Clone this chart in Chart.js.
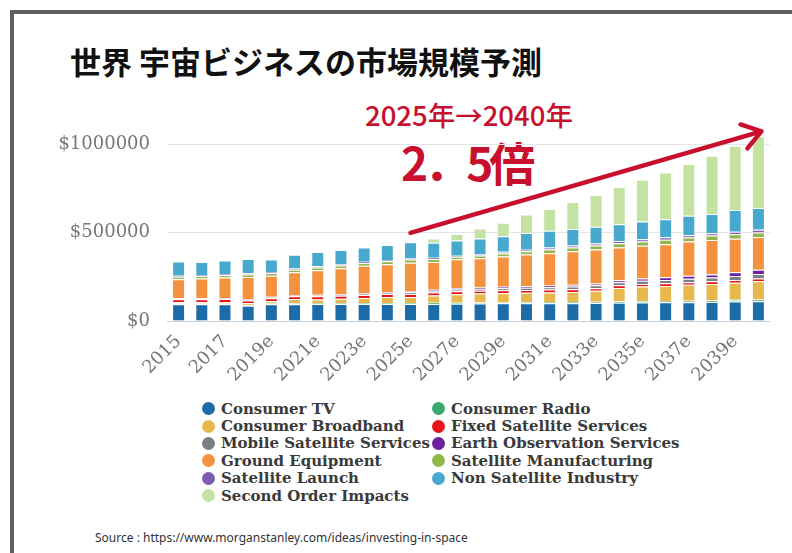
<!DOCTYPE html>
<html lang="ja">
<head>
<meta charset="utf-8">
<script src="https://cdn.jsdelivr.net/npm/chart.js@4"></script>
<style>
  html, body { margin: 0; padding: 0; background: #fff; }
  #page { position: relative; width: 792px; height: 553px; overflow: hidden; background: #fff; }
  #frame { position: absolute; left: 10px; top: 10px; width: 820px; height: 580px;
           border-top: 4px solid #5f5f5f; border-left: 4px solid #5f5f5f; }
  #title { position: absolute; left: 70px; top: 45px; font: bold 31px "Noto Sans CJK JP"; color: #111; line-height: 1; white-space: nowrap; }
  #period { position: absolute; left: 365px; top: 101px; font: 500 27.5px "Noto Sans CJK JP"; color: #c8102e; line-height: 1; white-space: nowrap; }
  #ratio { position: absolute; left: 401px; top: 138px; font: bold 46px "Noto Sans CJK JP"; letter-spacing: -4px; color: #c8102e; line-height: 1; white-space: nowrap; }
  #chartBox { position: absolute; left: 0; top: 100px; width: 792px; height: 300px; }
  #legend { position: absolute; left: 202px; top: 400px; display: grid; grid-template-columns: 230px 230px; }
  .item { height: 17.4px; display: flex; align-items: center; white-space: nowrap;
          font: bold 15px "DejaVu Serif"; color: #3a3a3a; }
  .dot { width: 13px; height: 13px; border-radius: 50%; margin-right: 6px; flex: none; }
  #source { position: absolute; left: 95px; top: 529px; font: 12px "Noto Sans"; color: #333; white-space: nowrap; }
</style>
</head>
<body>
<div id="page">
  <div id="frame"></div>
  <div id="title">世界 宇宙ビジネスの市場規模予測</div>
  <div id="period">2025年→2040年</div>
  <div id="ratio">2．5倍</div>
  <div id="chartBox"><canvas id="grafico" width="792" height="300"></canvas></div>
  <div id="legend"></div>
  <div id="source">Source : https://www.morganstanley.com/ideas/investing-in-space</div>
</div>
<script>
const years = ["2015", "2016", "2017", "2018", "2019e", "2020e", "2021e", "2022e", "2023e", "2024e",
  "2025e", "2026e", "2027e", "2028e", "2029e", "2030e", "2031e", "2032e", "2033e", "2034e",
  "2035e", "2036e", "2037e", "2038e", "2039e", "2040e"];

const seriesNames = ["Consumer TV", "Consumer Radio", "Consumer Broadband", "Fixed Satellite Services",
  "Mobile Satellite Services", "Earth Observation Services", "Ground Equipment", "Satellite Manufacturing",
  "Satellite Launch", "Non Satellite Industry", "Second Order Impacts"];

const seriesColors = ["#1b6ca8", "#3aa76d", "#e8b84f", "#e8141b", "#7a7f85", "#6d1f9e",
  "#f4923f", "#93b64a", "#7e5bb0", "#48a9cf", "#c4e2a2"];

const consumerTV = [95000, 95000, 95000, 86000, 95000, 95000, 96000, 96000, 96000, 96000, 97000, 97000, 98000,
  99000, 100000, 100000, 101000, 101000, 102000, 104000, 105000, 106000, 106000, 108000, 110000, 112000];
const consumerRadio = [4000, 4000, 4000, 4000, 4000, 5000, 5000, 5000, 5000, 5000, 5000, 6000, 6000,
  6000, 6000, 7000, 7000, 7000, 7000, 8000, 8000, 8000, 9000, 9000, 10000, 10000];
const consumerBroadband = [7000, 7000, 8000, 10000, 13000, 24000, 21000, 25000, 29000, 35000, 34000, 41000, 48000,
  51000, 52000, 53000, 54000, 57000, 62000, 75000, 82000, 85000, 90000, 93000, 97000, 104000];
const fixedSatellite = [17000, 17000, 17000, 16000, 17000, 16000, 18000, 17000, 17000, 17000, 17000, 17000, 16000,
  16000, 16000, 16000, 16000, 15000, 15000, 15000, 15000, 15000, 15000, 15000, 15000, 15000];
const mobileSatellite = [4000, 4000, 4000, 5000, 5000, 5000, 6000, 6000, 7000, 7000, 10000, 10000, 11000,
  11000, 12000, 13000, 14000, 15000, 16000, 17000, 18000, 19000, 20000, 21000, 23000, 25000];
const earthObservation = [2000, 2000, 2000, 3000, 3000, 3000, 3000, 3000, 4000, 4000, 6000, 6000, 7000,
  7000, 8000, 8000, 9000, 10000, 11000, 12000, 13000, 15000, 16000, 18000, 21000, 24000];
const groundEquipment = [108000, 112000, 117000, 126000, 120000, 128000, 138000, 147000, 155000, 158000, 161000, 158000, 164000,
  165000, 171000, 180000, 183000, 190000, 192000, 185000, 185000, 187000, 194000, 195000, 190000, 186000];
const satelliteManufacturing = [14000, 14000, 14000, 14000, 15000, 15000, 16000, 16000, 16000, 17000, 18000, 16000, 14000,
  16000, 18000, 18000, 22000, 22000, 23000, 25000, 25000, 26000, 24000, 25000, 26000, 26000];
const satelliteLaunch = [6000, 6000, 6000, 6000, 6000, 6000, 7000, 7000, 7000, 7000, 9000, 8000, 6000,
  8000, 9000, 9000, 11000, 11000, 12000, 13000, 13000, 14000, 12000, 14000, 14000, 15000];
const nonSatellite = [80000, 74000, 76000, 81000, 70000, 78000, 81000, 80000, 80000, 85000, 90000, 85000, 87000,
  89000, 89000, 95000, 95000, 94000, 94000, 95000, 100000, 102000, 110000, 108000, 123000, 123000];
const secondOrder = [0, 0, 0, 0, 0, 0, 0, 0, 0, 0, 2000, 23000, 36000,
  57000, 76000, 104000, 123000, 153000, 180000, 210000, 237000, 265000, 294000, 331000, 364000, 407000];

const yTicks = [0, 500000, 1000000];

const seriesValues = [consumerTV, consumerRadio, consumerBroadband, fixedSatellite, mobileSatellite,
  earthObservation, groundEquipment, satelliteManufacturing, satelliteLaunch, nonSatellite, secondOrder];

// flecha roja 2025e -> 2040e
const flecha = {
  id: "flecha",
  afterDraw(chart) {
    const x = chart.scales.x, y = chart.scales.y, ctx = chart.ctx;
    const x0 = x.getPixelForValue(10), y0 = y.getPixelForValue(500000);
    const x1 = x.getPixelForValue(25) + 3, y1 = y.getPixelForValue(1075000);
    const ang = Math.atan2(y1 - y0, x1 - x0);
    ctx.save();
    ctx.strokeStyle = "#c8102e";
    ctx.lineWidth = 4.5;
    ctx.lineCap = "round";
    ctx.lineJoin = "round";
    ctx.beginPath();
    ctx.moveTo(x0, y0);
    ctx.lineTo(x1, y1);
    ctx.moveTo(x1 + 22 * Math.cos(ang + Math.PI - 0.6), y1 + 22 * Math.sin(ang + Math.PI - 0.6));
    ctx.lineTo(x1, y1);
    ctx.lineTo(x1 + 22 * Math.cos(ang + Math.PI + 0.6), y1 + 22 * Math.sin(ang + Math.PI + 0.6));
    ctx.stroke();
    ctx.restore();
  }
};

new Chart(document.getElementById("grafico"), {
  type: "bar",
  data: {
    labels: years,
    datasets: seriesNames.map((name, i) => ({
      label: name,
      data: seriesValues[i],
      backgroundColor: seriesColors[i],
      borderColor: "#fff",
      borderWidth: 1
    }))
  },
  options: {
    responsive: false,
    animation: false,
    layout: { padding: { left: 0, right: 22, top: 34, bottom: 19 } },
    categoryPercentage: 0.56,
    barPercentage: 1,
    plugins: { legend: { display: false }, tooltip: { enabled: false } },
    scales: {
      x: {
        stacked: true,
        grid: { display: false },
        border: { display: false },
        afterFit(s) { s.height = 60; },
        ticks: {
          autoSkip: false,
          minRotation: 45,
          maxRotation: 45,
          padding: 2,
          color: "#777",
          font: { family: "DejaVu Serif", size: 18 },
          callback: (v, i) => (i % 2 === 0 ? years[i] : "")
        }
      },
      y: {
        stacked: true,
        min: 0,
        max: 1060000,
        afterFit(s) { s.width = 167; },
        afterBuildTicks(s) { s.ticks = yTicks.map(v => ({ value: v })); },
        border: { display: false },
        grid: { drawTicks: false, color: c => (c.tick && c.tick.value === 0 ? "#c9cfd6" : "#e4e4e4") },
        ticks: {
          padding: 17,
          color: "#777",
          font: { family: "DejaVu Serif", size: 18 },
          callback: v => "$" + v
        }
      }
    }
  },
  plugins: [flecha]
});

// leyenda en dos columnas
const leyenda = document.getElementById("legend");
seriesNames.forEach((name, i) => {
  leyenda.innerHTML += `<div class="item"><span class="dot" style="background:${seriesColors[i]}"></span>${name}</div>`;
});
</script>
</body>
</html>
